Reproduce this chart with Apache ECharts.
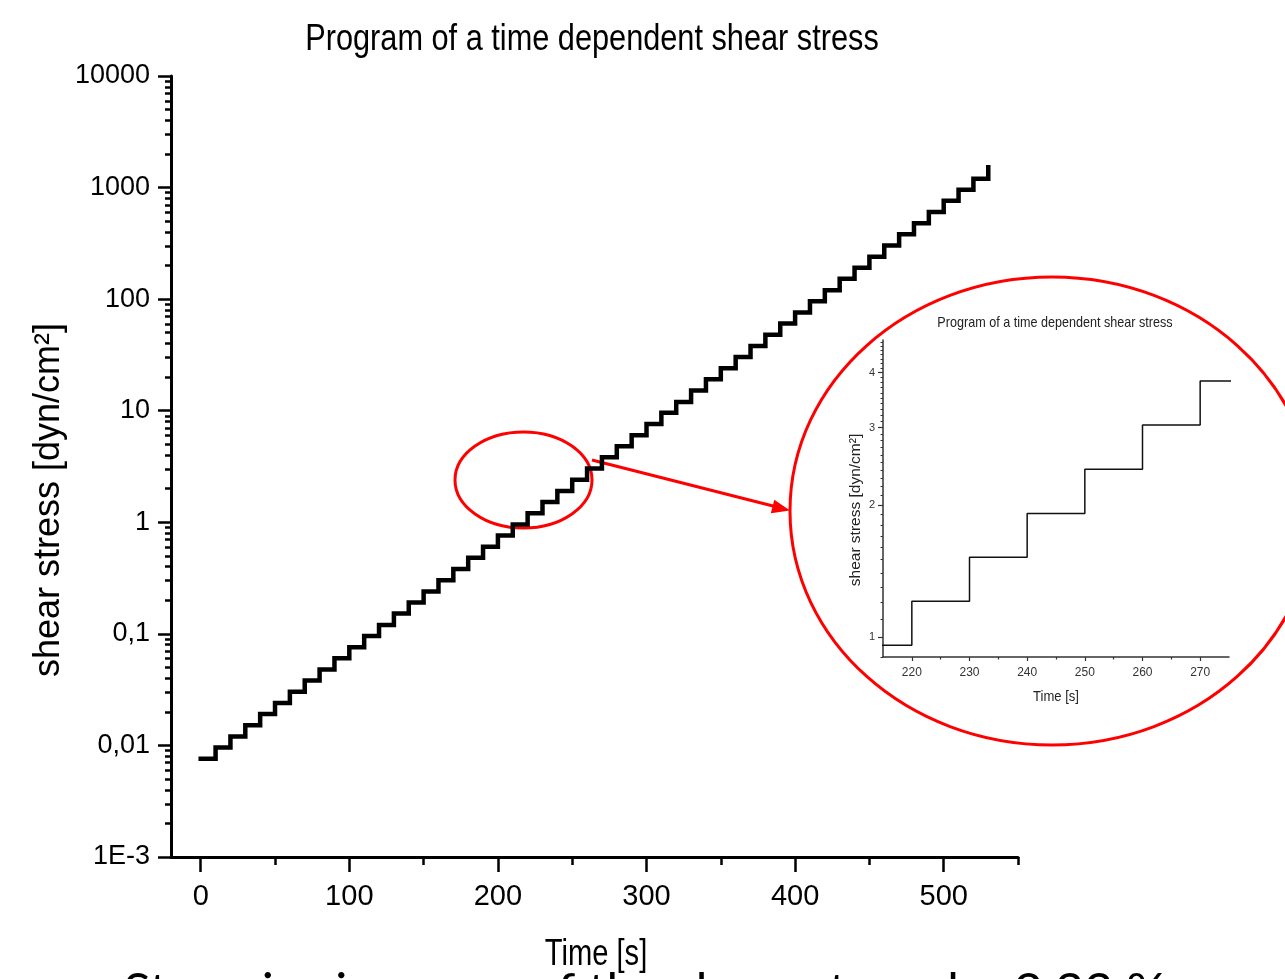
<!DOCTYPE html>
<html><head><meta charset="utf-8">
<script src="https://cdn.jsdelivr.net/npm/echarts@6/dist/echarts.min.js"></script>
<style>html,body{margin:0;padding:0;background:#fff;overflow:hidden}#c{width:1285px;height:979px}</style>
</head><body><div id="c"></div>
<script>
// ---- data ----
const times = [0,10,20,30,40,50,60,70,80,90,100,110,120,130,140,150,160,170,180,190,200,210,220,230,240,250,260,270,280,290,300,310,320,330,340,350,360,370,380,390,400,410,420,430,440,450,460,470,480,490,500,510,520,530];
const stress = [0.0076,0.00957,0.0120,0.0152,0.0191,0.0240,0.0303,0.0381,0.0480,0.0604,0.0760,0.0957,0.120,0.152,0.191,0.240,0.303,0.381,0.480,0.604,0.760,0.957,1.206,1.52,1.91,2.41,3.04,3.83,4.80,6.04,7.60,9.57,12.0,15.2,19.1,24.0,30.3,38.1,48.0,60.4,76.0,95.7,120,152,191,240,303,381,480,604,760,957,1200,1520];

const xMajorTicks = [0,100,200,300,400,500];
const xMinorTicks = [50,150,250,350,450,550];
const yMajorTicks = [0.001,0.01,0.1,1,10,100,1000,10000];
const yMajorLabels = ['1E-3','0,01','0,1','1','10','100','1000','10000'];
const yMinorMult = [2,3,4,5,6,7,8,9];

const insetXTicks = [220,230,240,250,260,270];
const insetXMinor = [225,235,245,255,265];
const insetYTicks = [1,2,3,4];
const insetYLabels = ['1','2','3','4'];
const insetYMinor = [0.9,1.1,1.2,1.3,1.4,1.5,1.6,1.7,1.8,1.9,2.1,2.2,2.3,2.4,2.5,2.6,2.7,2.8,2.9,3.1,3.2,3.3,3.4,3.5,3.6,3.7,3.8,3.9,4.1,4.2,4.3,4.4,4.5,4.6,4.7];

const titleText = 'Program of a time dependent shear stress';
const yName = 'shear stress [dyn/cm\u00B2]';
const xName = 'Time [s]';
const captionText = 'Stepwise increase of the shear stress by 2.33 %';

// ---- derived ----
const yMinorTicks = [];
for (let d = -3; d < 4; d++) for (const m of yMinorMult) yMinorTicks.push(+(m * Math.pow(10, d)).toPrecision(3));
const seriesData = times.map((t, i) => [t, stress[i]]);

const SANS = "'Liberation Sans',Arial,sans-serif";

function majorLabel(v) {
  const idx = Math.round(Math.log10(v)) + 3;
  return yMajorLabels[idx] !== undefined ? yMajorLabels[idx] : '';
}
function insetLabel(v) {
  let best = 0, bd = Infinity;
  insetYTicks.forEach((t, i) => { const d = Math.abs(t - v); if (d < bd) { bd = d; best = i; } });
  return insetYLabels[best];
}

const chart = echarts.init(document.getElementById('c'), null, {renderer: 'canvas'});

const mainAxisLine = {show: true, onZero: false, lineStyle: {color: '#000', width: 3}};
const insetAxisLine = {show: true, onZero: false, lineStyle: {color: '#333', width: 1.5}};

const option = {
  backgroundColor: '#fff',
  animation: false,
  grid: [
    {left: 171, right: 267, top: 76, bottom: 122, containLabel: false, outerBoundsMode: 'none'},
    {left: 883, top: 340, width: 346, height: 317, containLabel: false, outerBoundsMode: 'none'}
  ],
  xAxis: [
    {gridIndex: 0, type: 'value', position: 'bottom', min: -20, max: 550,
      axisLine: mainAxisLine,
      axisTick: {show: true, inside: false, length: 15, customValues: xMajorTicks, lineStyle: {color: '#000', width: 2.5}},
      axisLabel: {show: true, customValues: xMajorTicks, margin: 25, color: '#000', fontSize: 29, fontFamily: SANS},
      splitLine: {show: false}, minorTick: {show: false}},
    {gridIndex: 0, type: 'value', position: 'bottom', min: -20, max: 550,
      axisLine: {show: false, onZero: false},
      axisTick: {show: true, inside: false, length: 8, customValues: xMinorTicks, lineStyle: {color: '#000', width: 2.5}},
      axisLabel: {show: false}, splitLine: {show: false}},
    {gridIndex: 1, type: 'value', position: 'bottom', min: 215, max: 275,
      axisLine: insetAxisLine,
      axisTick: {show: true, inside: false, length: 4, customValues: insetXTicks, lineStyle: {color: '#333', width: 1.2}},
      axisLabel: {show: true, customValues: insetXTicks, margin: 10, color: '#333', fontSize: 12, fontFamily: SANS},
      splitLine: {show: false}},
    {gridIndex: 1, type: 'value', position: 'bottom', min: 215, max: 275,
      axisLine: {show: false, onZero: false},
      axisTick: {show: true, inside: false, length: 2.5, customValues: insetXMinor, lineStyle: {color: '#333', width: 1.2}},
      axisLabel: {show: false}, splitLine: {show: false}}
  ],
  yAxis: [
    {gridIndex: 0, type: 'log', logBase: 10, position: 'left', min: 0.001, max: 10000,
      axisLine: mainAxisLine,
      axisTick: {show: true, inside: false, length: 13, customValues: yMajorTicks, lineStyle: {color: '#000', width: 2.5}},
      axisLabel: {show: true, customValues: yMajorTicks, formatter: majorLabel, margin: 21, color: '#000', fontSize: 27, fontFamily: SANS},
      splitLine: {show: false}, minorTick: {show: false}},
    {gridIndex: 0, type: 'log', logBase: 10, position: 'left', min: 0.001, max: 10000,
      axisLine: {show: false, onZero: false},
      axisTick: {show: true, inside: false, length: 6, customValues: yMinorTicks, lineStyle: {color: '#000', width: 2.5}},
      axisLabel: {show: false}, splitLine: {show: false}},
    {gridIndex: 1, type: 'log', logBase: 10, position: 'left', min: 0.9, max: 4.75,
      axisLine: insetAxisLine,
      axisTick: {show: true, inside: false, length: 5, customValues: insetYTicks, lineStyle: {color: '#333', width: 1.2}},
      axisLabel: {show: true, customValues: insetYTicks, formatter: insetLabel, margin: 8, color: '#333', fontSize: 11, fontFamily: SANS},
      splitLine: {show: false}},
    {gridIndex: 1, type: 'log', logBase: 10, position: 'left', min: 0.9, max: 4.75,
      axisLine: {show: false, onZero: false},
      axisTick: {show: true, inside: false, length: 2.5, customValues: insetYMinor, lineStyle: {color: '#333', width: 1}},
      axisLabel: {show: false}, splitLine: {show: false}}
  ],
  series: [
    {type: 'line', xAxisIndex: 0, yAxisIndex: 0, data: seriesData, step: 'end', symbol: 'none',
      lineStyle: {color: '#000', width: 4.5, cap: 'square', join: 'miter'}, clip: true, silent: true},
    {type: 'line', xAxisIndex: 2, yAxisIndex: 2, data: seriesData, step: 'end', symbol: 'none',
      lineStyle: {color: '#111', width: 1.5}, clip: true, silent: true}
  ],
  graphic: [
    {type: 'text', x: 592, y: 40, scaleX: 0.83, style: {text: titleText, font: '37px ' + SANS, fill: '#000', align: 'center', verticalAlign: 'middle'}},
    {type: 'text', x: 49, y: 500, rotation: Math.PI / 2, style: {text: yName, font: '36px ' + SANS, fill: '#000', align: 'center', verticalAlign: 'middle'}},
    {type: 'text', x: 645, y: 993, scaleX: 1.05, style: {text: captionText, font: '48px Lato, "Open Sans", sans-serif', fill: '#000', align: 'center', verticalAlign: 'middle'}},
    {type: 'text', x: 596, y: 955, scaleX: 0.81, style: {text: xName, font: '36px ' + SANS, fill: '#000', align: 'center', verticalAlign: 'middle'}},
    // inset texts
    {type: 'text', x: 1055, y: 323, scaleX: 0.84, style: {text: titleText, font: '15px ' + SANS, fill: '#222', align: 'center', verticalAlign: 'middle'}},
    {type: 'text', x: 856, y: 510, rotation: Math.PI / 2, style: {text: yName, font: '15.5px ' + SANS, fill: '#222', align: 'center', verticalAlign: 'middle'}},
    {type: 'text', x: 1056, y: 697, scaleX: 0.87, style: {text: xName, font: '15px ' + SANS, fill: '#222', align: 'center', verticalAlign: 'middle'}},
    // annotations
    {type: 'ellipse', shape: {cx: 523.5, cy: 480, rx: 68.5, ry: 48}, style: {fill: 'none', stroke: '#ff0000', lineWidth: 3}},
    {type: 'ellipse', shape: {cx: 1052, cy: 511, rx: 262, ry: 234}, style: {fill: 'none', stroke: '#ff0000', lineWidth: 3}},
    {type: 'line', shape: {x1: 592, y1: 460, x2: 775, y2: 506.5}, style: {stroke: '#ff0000', lineWidth: 3}},
    {type: 'polygon', shape: {points: [[790, 510.5], [770.8, 513.3], [774.3, 499.7]]}, style: {fill: '#ff0000'}}
  ]
};
chart.setOption(option);
</script>
</body></html>
